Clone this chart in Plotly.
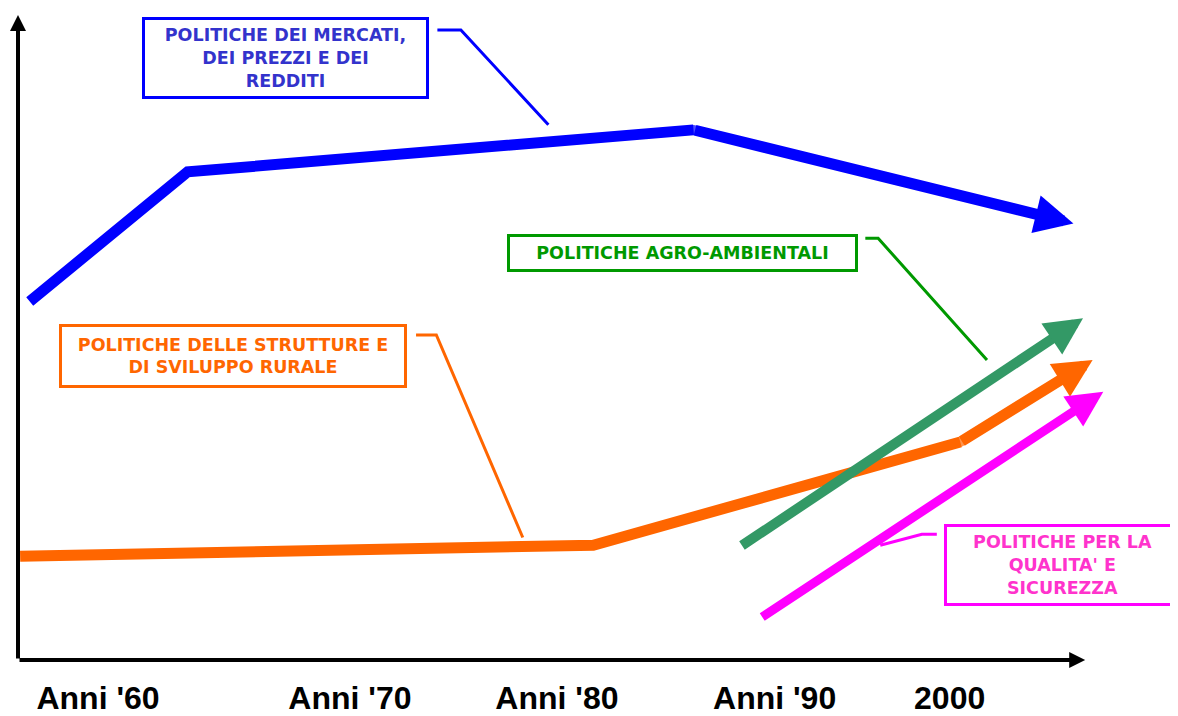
import plotly.graph_objects as go

# ---- data (abstract time index on x, abstract policy weight on y) ----
decade_labels = ["Anni '60", "Anni '70", "Anni '80", "Anni '90", "2000"]
decade_pos = [7.5, 31.1, 50.5, 70.9, 87.3]

mercati_x = [1.1, 15.9, 63.3, 98.9]
mercati_y = [55.6, 75.7, 82.2, 67.7]

strutture_x = [0.2, 53.9, 88.3, 100.7]
strutture_y = [16.1, 17.8, 33.8, 46.5]

agro_x = [67.7, 99.8]
agro_y = [17.6, 53.0]

qualita_x = [69.6, 101.7]
qualita_y = [6.5, 41.6]

# leader lines from the label boxes to the curves
lead_mercati_x = [39.3, 41.5, 49.7]
lead_mercati_y = [97.7, 97.7, 83.0]
lead_agro_x = [79.4, 80.6, 90.8]
lead_agro_y = [65.4, 65.4, 46.5]
lead_strutture_x = [37.3, 39.2, 47.3]
lead_strutture_y = [50.4, 50.4, 19.0]
lead_qualita_x = [86.1, 84.7, 80.8]
lead_qualita_y = [19.5, 19.5, 17.8]

fig = go.Figure()

series = [
    (mercati_x, mercati_y, "#0000ff", 11, 0.7),
    (strutture_x, strutture_y, "#ff6600", 11, 0.7),
    (agro_x, agro_y, "#339966", 10, 0.75),
    (qualita_x, qualita_y, "#ff00ff", 9, 0.8),
]

annotations = []
for xs, ys, col, w, hs in series:
    if len(xs) > 2:
        n = len(xs) - 1
        fig.add_trace(go.Scatter(x=xs[:-1], y=ys[:-1], mode="lines+markers",
                                 line=dict(color=col, width=w),
                                 marker=dict(color=col, size=[0] * (n - 1) + [w - 1],
                                             line=dict(width=0)),
                                 hoverinfo="skip", showlegend=False, cliponaxis=False))
    annotations.append(dict(x=xs[-1], y=ys[-1], ax=xs[-2], ay=ys[-2],
                            xref="x", yref="y", axref="x", ayref="y",
                            text="", showarrow=True, arrowhead=2, arrowsize=hs,
                            arrowwidth=w, arrowcolor=col))

leaders = [
    (lead_mercati_x, lead_mercati_y, "#0000ff"),
    (lead_agro_x, lead_agro_y, "#009900"),
    (lead_strutture_x, lead_strutture_y, "#ff6600"),
    (lead_qualita_x, lead_qualita_y, "#ff00ff"),
]
for xs, ys, col in leaders:
    fig.add_trace(go.Scatter(x=xs, y=ys, mode="lines", line=dict(color=col, width=3),
                             hoverinfo="skip", showlegend=False, cliponaxis=False))

# axes drawn as arrows
annotations.append(dict(x=100, y=0, ax=0, ay=0, xref="x", yref="y", axref="x", ayref="y",
                        text="", showarrow=True, arrowhead=2, arrowsize=0.8,
                        arrowwidth=4, arrowcolor="black"))
annotations.append(dict(x=0, y=100, ax=0, ay=0, xref="x", yref="y", axref="x", ayref="y",
                        text="", showarrow=True, arrowhead=2, arrowsize=0.8,
                        arrowwidth=4, arrowcolor="black"))

box_font = "DejaVu Sans, Arial, sans-serif"
boxes = [
    ("<b>POLITICHE DEI MERCATI,<br>DEI PREZZI E DEI<br>REDDITI</b>", 25.1, 93.4, 281, 76, "#3333cc", "#0000ff"),
    ("<b>POLITICHE AGRO-AMBIENTALI</b>", 62.3, 63.1, 345, 32, "#009900", "#009900"),
    ("<b>POLITICHE DELLE STRUTTURE E<br>DI SVILUPPO RURALE</b>", 20.1, 47.2, 342, 58, "#ff6600", "#ff6600"),
    ("<b>POLITICHE PER LA<br>QUALITA' E<br>SICUREZZA</b>", 97.9, 14.8, 231, 76, "#ff33cc", "#ff00ff"),
]
for txt, bx, by, bw, bh, tcol, bcol in boxes:
    annotations.append(dict(x=bx, y=by, xref="x", yref="y", text=txt, showarrow=False,
                            xanchor="center", yanchor="middle", width=bw, height=bh,
                            align="center", valign="middle",
                            font=dict(family=box_font, size=17.5, color=tcol),
                            bordercolor=bcol, borderwidth=3, borderpad=0,
                            bgcolor="white"))

fig.update_layout(
    width=1170, height=708,
    margin=dict(l=10, r=0, t=0, b=54),
    paper_bgcolor="white", plot_bgcolor="white",
    annotations=annotations,
    xaxis=dict(range=[0, 108.7], showgrid=False, zeroline=False, showline=False,
               tickmode="array", tickvals=decade_pos,
               ticktext=["<b>" + t + "</b>" for t in decade_labels],
               ticks="outside", ticklen=10, tickcolor="rgba(0,0,0,0)",
               tickfont=dict(family="Liberation Sans, Arial, sans-serif",
                             size=32, color="black"),
               fixedrange=True),
    yaxis=dict(range=[0, 101.1], showgrid=False, zeroline=False, showline=False,
               showticklabels=False, fixedrange=True),
    showlegend=False,
)

fig.write_html("out.html")
